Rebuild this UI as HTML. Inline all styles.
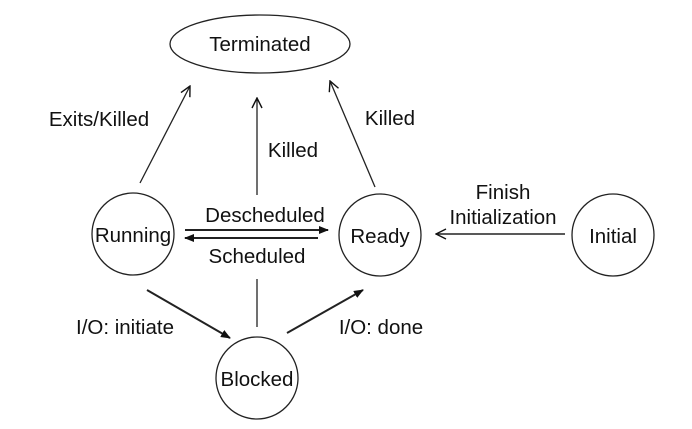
<!DOCTYPE html>
<html><head><meta charset="utf-8"><style>html,body{margin:0;padding:0;background:#fff}svg{display:block}text{font-family:"Liberation Sans",Arial,sans-serif;font-size:20.5px;fill:#111}</style></head>
<body>
<svg width="692" height="429" viewBox="0 0 692 429" xmlns="http://www.w3.org/2000/svg">
<defs>
<marker id="o" viewBox="0 0 12 12" refX="11" refY="6" markerWidth="12" markerHeight="12" markerUnits="userSpaceOnUse" orient="auto"><path d="M1,1 L11,6 L1,11" fill="none" stroke="#111" stroke-width="1.4"/></marker>
<marker id="f" viewBox="0 0 10 10" refX="9" refY="5" markerWidth="10" markerHeight="10" markerUnits="userSpaceOnUse" orient="auto"><path d="M0,1 L10,5 L0,9 Z" fill="#111"/></marker>
</defs>
<g fill="none" stroke="#222" stroke-width="1.3">
<ellipse cx="260" cy="44" rx="90" ry="29"/>
<circle cx="133" cy="234" r="41"/>
<circle cx="380" cy="235" r="41"/>
<circle cx="257" cy="378" r="41"/>
<circle cx="613" cy="235" r="41"/>
<line x1="140" y1="183" x2="190" y2="86" marker-end="url(#o)"/>
<line x1="257" y1="195" x2="257" y2="98" marker-end="url(#o)"/>
<line x1="375" y1="187" x2="330" y2="81" marker-end="url(#o)"/>
<line x1="185" y1="230" x2="328" y2="230" stroke-width="2" marker-end="url(#f)"/>
<line x1="318" y1="238" x2="185" y2="238" stroke-width="2" marker-end="url(#f)"/>
<line x1="257" y1="279" x2="257" y2="327"/>
<line x1="147" y1="290" x2="230" y2="338" stroke-width="2" marker-end="url(#f)"/>
<line x1="287" y1="333" x2="363" y2="290" stroke-width="2" marker-end="url(#f)"/>
<line x1="565" y1="234" x2="436" y2="234" stroke-width="1.6" marker-end="url(#o)"/>
</g>
<text x="260" y="51" text-anchor="middle">Terminated</text>
<text x="133" y="242" text-anchor="middle">Running</text>
<text x="380" y="243" text-anchor="middle">Ready</text>
<text x="257" y="386" text-anchor="middle">Blocked</text>
<text x="613" y="243" text-anchor="middle">Initial</text>
<text x="99" y="126" text-anchor="middle">Exits/Killed</text>
<text x="390" y="125" text-anchor="middle">Killed</text>
<text x="293" y="157" text-anchor="middle">Killed</text>
<text x="265" y="222" text-anchor="middle">Descheduled</text>
<text x="257" y="263" text-anchor="middle">Scheduled</text>
<text x="125" y="334" text-anchor="middle">I/O: initiate</text>
<text x="381" y="334" text-anchor="middle">I/O: done</text>
<text x="503" y="199" text-anchor="middle">Finish</text>
<text x="503" y="224" text-anchor="middle">Initialization</text>
</svg>
</body></html>
